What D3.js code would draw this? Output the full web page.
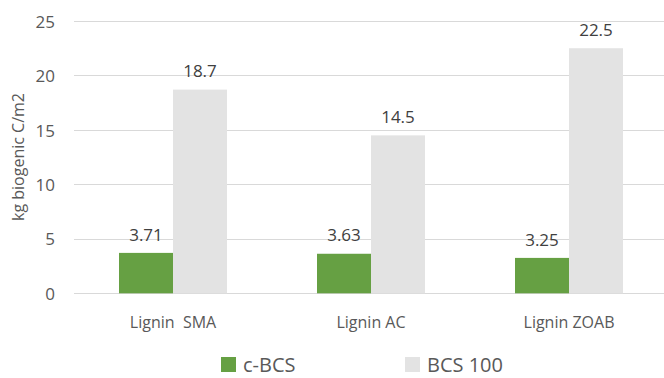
<!DOCTYPE html>
<html><head><meta charset="utf-8">
<script src="https://cdn.jsdelivr.net/npm/d3@7"></script>
<style>body{margin:0;background:#fff}svg{display:block}text{font-family:"Open Sans",sans-serif;fill:#595959;white-space:pre}</style>
</head><body><svg id="c" width="664" height="378"></svg>
<script>
const categories = ["Lignin  SMA", "Lignin AC", "Lignin ZOAB"];
const seriesNames = ["c-BCS", "BCS 100"];
const cBCS = [3.71, 3.63, 3.25];
const bcs100 = [18.7, 14.5, 22.5];
const yTicks = [0, 5, 10, 15, 20, 25];
const colors = ["#66a043", "#e3e3e3"];
const seriesValues = [cBCS, bcs100];

const svg = d3.select("#c");
const y = d3.scaleLinear().domain([0, 25]).range([293.3, 21]);
const x0 = d3.scaleBand().domain(categories).range([74, 668]).padding(0);
const x1 = d3.scaleBand().domain(seriesNames).range([0, x0.bandwidth()]).paddingInner(0).paddingOuter(0.8333);
const fmt = v => String(v);

svg.append("g").selectAll("line").data(yTicks).join("line")
  .attr("x1", 74).attr("x2", 664)
  .attr("y1", d => Math.round(y(d)) + 0.5).attr("y2", d => Math.round(y(d)) + 0.5)
  .attr("stroke", "#d9d9d9").attr("stroke-width", 1);

const yAxis = d3.axisLeft(y).tickValues(yTicks).tickSize(0).tickPadding(0);
const ga = svg.append("g").attr("transform", "translate(55,0)").call(yAxis);
ga.select(".domain").remove();
ga.selectAll("text").style("font-size", "17px").style("font-family", "Open Sans").attr("fill", "#595959").attr("dy", "0.36em");

const groups = svg.append("g").selectAll("g").data(categories).join("g")
  .attr("transform", d => `translate(${x0(d)},0)`);
groups.selectAll("rect").data((d, i) => seriesNames.map((s, j) => ({s, v: seriesValues[j][i], j})))
  .join("rect")
  .attr("x", d => x1(d.s)).attr("width", x1.bandwidth())
  .attr("y", d => y(d.v)).attr("height", d => y(0) - y(d.v))
  .attr("fill", d => colors[d.j]);
groups.selectAll("text.v").data((d, i) => seriesNames.map((s, j) => ({s, v: seriesValues[j][i], j})))
  .join("text").attr("class", "v")
  .attr("x", d => x1(d.s) + x1.bandwidth() / 2).attr("y", d => y(d.v) - 12.3)
  .attr("text-anchor", "middle").style("font-size", "17px").style("fill", "#404040")
  .text(d => fmt(d.v));

const xAxis = d3.axisBottom(x0).tickSize(0).tickPadding(0);
const gx = svg.append("g").attr("transform", "translate(0,328)").call(xAxis);
gx.select(".domain").remove();
gx.selectAll("text").attr("dy", 0).style("font-size", "16px").style("font-family", "Open Sans").style("white-space", "pre").attr("fill", "#595959");

svg.append("text").attr("transform", "translate(24,157) rotate(-90)")
  .attr("text-anchor", "middle").style("font-size", "16px").text("kg biogenic C/m2");

const legX = [221, 405];
const leg = svg.append("g").selectAll("g").data(seriesNames).join("g")
  .attr("transform", (d, i) => `translate(${legX[i]},357)`);
leg.append("rect").attr("width", 15).attr("height", 15).attr("fill", (d, i) => colors[i]);
leg.append("text").attr("x", 22).attr("y", 15).style("font-size", "20px").text(d => d);
</script></body></html>
